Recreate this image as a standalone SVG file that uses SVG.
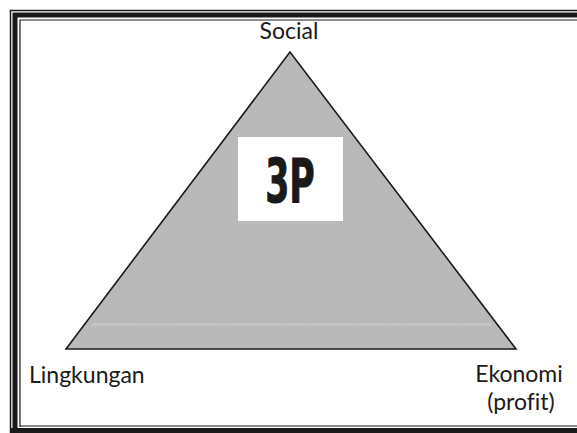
<svg xmlns="http://www.w3.org/2000/svg" width="577" height="433" viewBox="0 0 577 433">
<defs>
<style>
.lbl{font-family:Lato,"Open Sans",sans-serif;font-size:23px;fill:#1a1a1a;font-variant-ligatures:none}
.frame{fill:none;stroke:#1a1a1a}
</style>
<filter id="noise" x="0" y="0" width="100%" height="100%">
<feTurbulence type="fractalNoise" baseFrequency="0.9" numOctaves="2" seed="3" result="n"/>
<feColorMatrix in="n" type="matrix" values="0 0 0 0 0.62  0 0 0 0 0.62  0 0 0 0 0.62  0 0 0 0.35 0" result="g"/>
<feComposite in="g" in2="SourceGraphic" operator="in" result="gc"/>
<feMerge><feMergeNode in="SourceGraphic"/><feMergeNode in="gc"/></feMerge>
</filter>
</defs>
<rect width="577" height="433" fill="#ffffff"/>
<g id="frame">
<path class="frame" stroke-width="1.5" d="M10.5 440 V10.5 H590"/>
<path class="frame" stroke-width="5" d="M15 440 V15 H590"/>
<path class="frame" stroke-width="1.2" d="M20 427 V20 H590"/>
<path class="frame" stroke-width="1.2" d="M20 426 H590"/>
<rect x="10" y="428" width="580" height="6" fill="#1a1a1a"/>
</g>
<g id="triangle">
<polygon points="290,52 66,349 516,349" fill="#b4b4b4" filter="url(#noise)"/>
<rect x="92" y="323" width="400" height="3" fill="#c8c8c8" opacity="0.7"/>
<polygon points="290,52 66,349 516,349" fill="none" stroke="#1a1a1a" stroke-width="1.6"/>
</g>
<g id="center-3p">
<rect x="238" y="137" width="105" height="84" fill="#ffffff"/>
<text x="0" y="0" transform="translate(290,202) scale(0.58,1)" text-anchor="middle" font-family="DejaVu Sans,sans-serif" font-weight="bold" font-size="60" fill="#1a1a1a" stroke="#1a1a1a" stroke-width="1">3P</text>
</g>
<g id="social"><text class="lbl" x="289" y="39" text-anchor="middle">Social</text></g>
<g id="lingkungan"><text class="lbl" x="29" y="383">Lingkungan</text></g>
<g id="ekonomi"><text class="lbl" x="519" y="382" text-anchor="middle">Ekonomi</text><text class="lbl" x="521" y="410" text-anchor="middle">(profit)</text></g>
</svg>
